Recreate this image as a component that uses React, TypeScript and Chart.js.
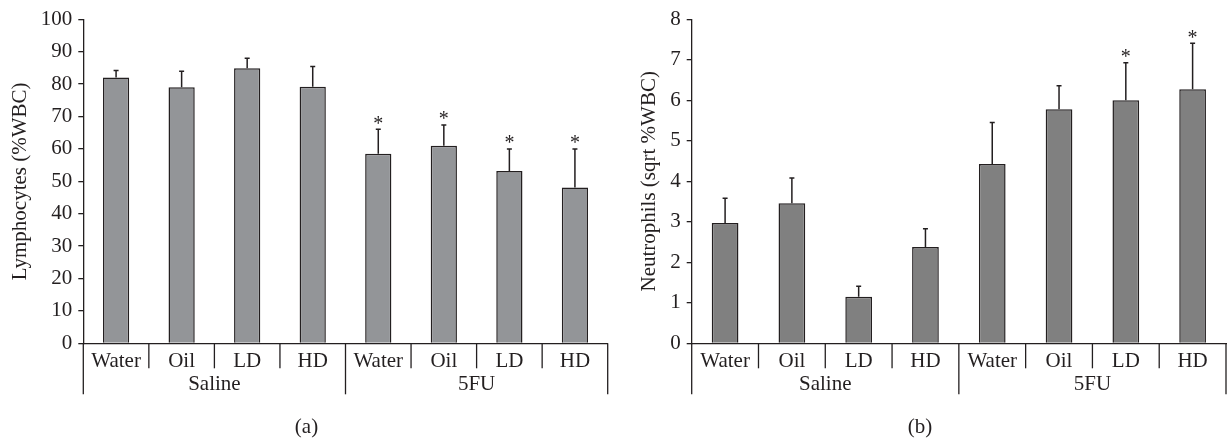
import React, { useEffect, useRef } from 'react';
import { Chart, registerables } from 'chart.js';

Chart.register(...registerables);

// ---- data ----
const categories = ['Water', 'Oil', 'LD', 'HD', 'Water', 'Oil', 'LD', 'HD'];
const groups = ['Saline', '5FU'];

const lymphValues = [82.0, 79.0, 84.9, 79.2, 58.5, 61.0, 53.2, 48.1];
const lymphErrTop = [84.2, 84.0, 88.0, 85.4, 66.1, 67.4, 60.0, 60.0];
const lymphSig = [false, false, false, false, true, true, true, true];

const neutValues = [2.97, 3.46, 1.15, 2.38, 4.43, 5.78, 6.0, 6.27];
const neutErrTop = [3.58, 4.08, 1.41, 2.83, 5.45, 6.36, 6.93, 7.41];
const neutSig = [false, false, false, false, false, false, true, true];

const lymphAxis = { min: 0, max: 100, step: 10 };
const neutAxis = { min: 0, max: 8, step: 1 };

const FONT = "'Liberation Serif', 'Times New Roman', serif";
const FS = 21;
const INK = '#231f20';
const H = 438;

type PanelProps = {
  left: number;
  width: number;
  values: number[];
  errTop: number[];
  sig: boolean[];
  axis: { min: number; max: number; step: number };
  yTitle: string;
  titlePad: number;
  fill: string;
  yAxisWidth: number;
  rightPad: number;
  panelLabel: string;
};

function Panel(p: PanelProps) {
  const ref = useRef<HTMLCanvasElement>(null);
  useEffect(() => {
    if (!ref.current) return;
    const overlay = {
      id: 'overlay',
      afterDraw(chart: any) {
        const ctx = chart.ctx;
        const xs = chart.scales.x;
        const ys = chart.scales.y;
        const meta = chart.getDatasetMeta(0);
        ctx.save();
        // error bars + asterisks
        ctx.strokeStyle = INK;
        ctx.lineWidth = 1.5;
        meta.data.forEach((bar: any, i: number) => {
          const x = bar.x;
          const yv = ys.getPixelForValue(p.values[i]);
          const ye = ys.getPixelForValue(p.errTop[i]);
          ctx.beginPath();
          ctx.moveTo(x, yv);
          ctx.lineTo(x, ye);
          ctx.moveTo(x - 2.5, ye);
          ctx.lineTo(x + 2.5, ye);
          ctx.stroke();
          if (p.sig[i]) {
            ctx.fillStyle = INK;
            ctx.font = `20px ${FONT}`;
            ctx.textAlign = 'center';
            ctx.textBaseline = 'alphabetic';
            ctx.fillText('*', x, ye - 9 + 9.5);
          }
        });
        // separators
        const n = categories.length;
        const step = (xs.right - xs.left) / n;
        const bottom = xs.top;
        ctx.lineWidth = 1.3;
        for (let j = 0; j <= n; j++) {
          const x = xs.left + j * step;
          const isGroup = j % 4 === 0;
          ctx.beginPath();
          ctx.moveTo(x, bottom);
          ctx.lineTo(x, bottom + (isGroup ? 51 : 25));
          ctx.stroke();
        }
        // group labels
        ctx.fillStyle = INK;
        ctx.font = `${FS}px ${FONT}`;
        ctx.textAlign = 'center';
        ctx.textBaseline = 'middle';
        groups.forEach((g, gi) => {
          const cx = xs.left + (gi * 4 + 2) * step;
          ctx.fillText(g, cx, bottom + 41);
        });
        // panel label
        ctx.fillText(p.panelLabel, chart.width / 2, 427);
        ctx.restore();
      },
    };
    const chart = new Chart(ref.current, {
      type: 'bar',
      data: {
        labels: categories,
        datasets: [
          {
            data: p.values,
            backgroundColor: p.fill,
            borderColor: INK,
            borderWidth: 1.5,
            barPercentage: 0.4,
            categoryPercentage: 1,
          },
        ],
      },
      options: {
        animation: false,
        responsive: false,
        events: [],
        layout: { padding: { top: 19.3, right: p.rightPad, bottom: 0, left: 0 } },
        plugins: { legend: { display: false }, tooltip: { enabled: false } },
        scales: {
          x: {
            grid: { display: false, drawTicks: false },
            border: { display: true, color: INK, width: 1.3 },
            ticks: {
              color: INK,
              font: { family: FONT, size: FS },
              padding: 5.5,
              maxRotation: 0,
              autoSkip: false,
            },
            afterFit: (s: any) => {
              s.height = H - 343.3;
            },
          },
          y: {
            min: p.axis.min,
            max: p.axis.max,
            grid: {
              display: true,
              drawOnChartArea: false,
              drawTicks: true,
              tickLength: 5,
              color: INK,
              lineWidth: 1.3,
            },
            border: { display: true, color: INK, width: 1.3 },
            ticks: {
              stepSize: p.axis.step,
              color: INK,
              padding: 6,
              font: { family: FONT, size: FS },
            },
            title: {
              display: true,
              text: p.yTitle,
              color: INK,
              font: { family: FONT, size: FS },
              padding: { top: p.titlePad, bottom: 0 },
            },
            afterFit: (s: any) => {
              s.width = p.yAxisWidth;
            },
          },
        },
      },
      plugins: [overlay],
    } as any);
    return () => chart.destroy();
  }, []);
  return (
    <canvas
      ref={ref}
      width={p.width}
      height={H}
      style={{ position: 'absolute', left: p.left, top: 0, width: p.width, height: H }}
    />
  );
}

export default function App() {
  return (
    <div style={{ position: 'fixed', left: 0, top: 0, width: 1227, height: H, background: '#fff' }}>
      <Panel
        left={0}
        width={613}
        values={lymphValues}
        errTop={lymphErrTop}
        sig={lymphSig}
        axis={lymphAxis}
        yTitle="Lymphocytes (%WBC)"
        titlePad={7.4}
        fill="#939598"
        yAxisWidth={83.3}
        rightPad={5.3}
        panelLabel="(a)"
      />
      <Panel
        left={613}
        width={614}
        values={neutValues}
        errTop={neutErrTop}
        sig={neutSig}
        axis={neutAxis}
        yTitle="Neutrophils (sqrt %WBC)"
        titlePad={23.4}
        fill="#808080"
        yAxisWidth={78.7}
        rightPad={1}
        panelLabel="(b)"
      />
    </div>
  );
}
